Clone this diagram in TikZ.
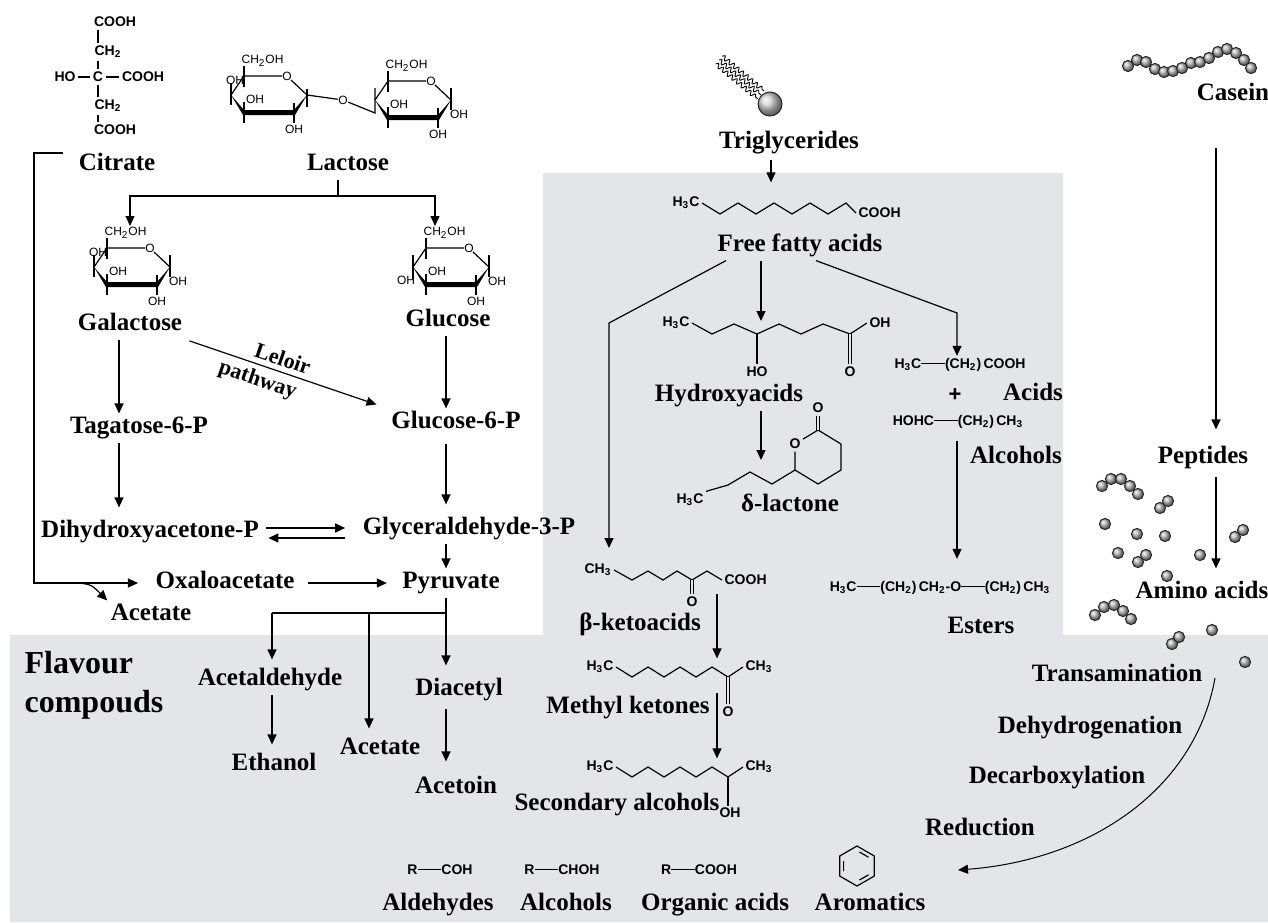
\documentclass[tikz,border=0pt]{standalone}
\usepackage{fontspec}
\setmainfont{Liberation Serif}
\setsansfont{Liberation Sans}
\usetikzlibrary{arrows.meta,decorations.pathmorphing}
\definecolor{bggray}{RGB}{228,229,233}
\newcommand{\chbond}{\rule[0.33em]{1.7em}{0.55pt}}
\tikzset{
  lbl/.style={font=\fontsize{12.5}{14}\selectfont\bfseries,inner sep=1.5pt,text height=8.3pt,text depth=2.7pt},
  biglbl/.style={font=\fontsize{16}{19}\selectfont\bfseries,inner sep=0pt,anchor=west,text height=10.6pt,text depth=3.5pt},
  slbl/.style={font=\fontsize{11}{12}\selectfont\bfseries,inner sep=2.5pt},
  chem/.style={font=\fontsize{7}{8}\selectfont\sffamily\bfseries,inner sep=1pt},
  ringtxt/.style={font=\fontsize{6}{7}\selectfont\sffamily,inner sep=0pt},
  arr/.style={-{Triangle[length=5pt,width=4.5pt]}},
  dbl/.style={line width=0.45pt,double=bggray,double distance=1.3pt},
  bead/.style={draw=black!85,line width=0.5pt,ball color=gray!55},
  sugar/.pic={
    \fill (-38,0) -- (-25,15) -- (25,15) -- (38,0) -- (26,20) -- (-26,20) -- cycle;
    \draw (38,0) -- (22,-15) (13,-19) -- (-25,-19) -- (-38,0);
    \node[ringtxt] at (18,-19) {O};
    \draw (-25,-8) -- (-25,-29);
    \node[ringtxt,anchor=west] at (-28,-34) {CH\textsubscript{2}OH};
    \draw (25,8) -- (25,28);
    \node[ringtxt] at (25,34) {OH};
    \draw (-25,7) -- (-25,28);
    \node[ringtxt] at (-14,4) {OH};
  }
}

\begin{document}
\begin{tikzpicture}[x=0.5pt,y=-0.5pt,line width=0.6pt]
	\useasboundingbox (0,0) rectangle (1268,922);
	\fill[bggray] (543,173) -- (1063,173) -- (1063,635) -- (1268,635) -- (1268,922) -- (10,922) -- (10,635) -- (543,635) -- cycle;

	\coordinate (colL) at (119,0);
	\coordinate (colG) at (446,0);
	\coordinate (colP) at (272,0);
	\coordinate (colA) at (369,0);
	\coordinate (colT) at (771,0);
	\coordinate (colM) at (761,0);
	\coordinate (colK) at (717,0);
	\coordinate (colR) at (957,0);
	\coordinate (colC) at (1216,0);

	% citrate
	\node (cooh1) at (115,22) [chem] {COOH};
	\node (ch2a) at (108,52) [chem] {CH\textsubscript{2}};
	\node (cC) at (98,77) [chem] {C};
	\node (ho) at (65,77) [chem] {HO};
	\node (cooh2) at (143,77) [chem] {COOH};
	\node (ch2b) at (108,106) [chem] {CH\textsubscript{2}};
	\node (cooh3) at (115,130) [chem] {COOH};
	\draw (cooh1.south -| cC) -- (ch2a.north -| cC);
	\draw (ch2a.south -| cC) -- (cC);
	\draw (cC) -- (ch2b.north -| cC);
	\draw (ch2b.south -| cC) -- (cooh3.north -| cC);
	\draw (ho) -- (cC) -- (cooh2);

	% sugars
	\begin{scope}[shift={(269,95)}]
		\pic {sugar};
		\draw (-38,-12) -- (-38,10) (38,-6) -- (38,12);
		\node[ringtxt] at (-34,-15) {OH};
	\end{scope}
	\begin{scope}[shift={(413,100)}]
		\pic {sugar};
		\draw (38,-12) -- (38,10);
		\node[ringtxt] at (46,14) {OH};
	\end{scope}
	\node (brO) at (343,100) [ringtxt] {O};
	\draw (307,95) -- (brO) -- (375,113) -- (375,88);
	\begin{scope}[shift={(132,267)}]
		\pic {sugar};
		\draw (-38,-12) -- (-38,10) (38,-12) -- (38,10);
		\node[ringtxt] at (-34,-15) {OH};
		\node[ringtxt] at (46,14) {OH};
	\end{scope}
	\begin{scope}[shift={(451,267)}]
		\pic {sugar};
		\draw (-38,-12) -- (-38,12) (38,-12) -- (38,10);
		\node[ringtxt] at (-45,13) {OH};
		\node[ringtxt] at (46,14) {OH};
	\end{scope}

	% triglyceride and beads
	\foreach \d in {-1,0,1}
		\draw[decorate,decoration={snake,amplitude=1.1pt,segment length=3pt},line width=0.45pt] (719+3.2*\d,60-3.85*\d) -- (761+3.2*\d,95-3.85*\d);
	\path[bead,ball color=gray!35] (770,104) circle (6pt);
	\foreach \x/\y in {1128/66,1137/60,1146/62,1155/69,1164/72,1173/71,1182/68,1191/63,1200/62,1209/58,1218/52,1227/49,1236/53,1244/60,1251/68}
		\path[bead] (\x,\y) circle (2.8pt);
	\foreach \x/\y in {1102/486,1111/479,1121/479,1130/486,1138/494,1160/508,1168/501,1105/524,1137/534,1165/536,1235/537,1243/530,1118/553,1138/562,1146/555,1200/555,1167/576,1095/615,1104/607,1114/605,1123/611,1131/619,1212/630,1172/644,1179/637,1245/662}
		\path[bead] (\x,\y) circle (2.8pt);

	% fatty acid
	\node (faH) at (702,203) [chem,anchor=east] {H\textsubscript{3}C};
	\node (faC) at (856,213) [chem,anchor=west] {COOH};
	\draw (faH.east) -- (720,214) -- (738,203) -- (756,214) -- (774,203) -- (792,214) -- (810,203) -- (828,214) -- (846,203) -- (faC.west);

	% hydroxyacid
	\node (hyH) at (692,323) [chem,anchor=east] {H\textsubscript{3}C};
	\node (hyOH) at (880,323) [chem] {OH};
	\node (hyHO) at (757,372) [chem] {HO};
	\node (hyO) at (850,372) [chem] {O};
	\draw (hyH.east) -- (712,334) -- (734,324) -- (757,334) -- (779,324) -- (801,334) -- (823,324) -- (850,334) -- (hyOH.west);
	\draw (757,334) -- (hyHO.north);
	\draw[dbl] (850,334) -- (hyO.north);

	% lactone
	\node (laO) at (795,444) [chem] {O};
	\node (laOt) at (818,408) [chem] {O};
	\node (laH) at (690,500) [chem] {H\textsubscript{3}C};
	\draw (laO) -- (818,430) -- (841,444) -- (841,470) -- (818,484) -- (795,470) -- (laO);
	\draw[dbl] (818,430) -- (laOt.south);
	\draw (795,470) -- (772,484) -- (750,472) -- (728,485) -- (laH.north east);

	% ketoacid
	\node (kaH) at (614,570) [chem,anchor=east] {CH\textsubscript{3}};
	\node (kaC) at (722,580) [chem,anchor=west] {COOH};
	\node (kaO) at (692,602) [chem] {O};
	\draw (kaH.east) -- (632,580) -- (648,571) -- (663,580) -- (677,571) -- (692,580) -- (707,571) -- (kaC.west);
	\draw[dbl] (692,580) -- (kaO.north);

	% methyl ketone
	\node (mkH) at (616,667) [chem,anchor=east] {H\textsubscript{3}C};
	\node (mkCH) at (743,667) [chem,anchor=west] {CH\textsubscript{3}};
	\node (mkO) at (728,712) [chem] {O};
	\draw (mkH.east) -- (632,677) -- (648,667) -- (664,677) -- (680,667) -- (696,677) -- (712,667) -- (728,677) -- (mkCH.west);
	\draw[dbl] (728,677) -- (mkO.north);

	% secondary alcohol
	\node (saH) at (616,767) [chem,anchor=east] {H\textsubscript{3}C};
	\node (saCH) at (743,767) [chem,anchor=west] {CH\textsubscript{3}};
	\node (saOH) at (730,813) [chem] {OH};
	\draw (saH.east) -- (632,777) -- (648,767) -- (664,777) -- (680,767) -- (696,777) -- (712,767) -- (728,777) -- (saCH.west);
	\draw (728,777) -- (728,806);

	% acids, alcohols, esters
	\node (acidf) at (960,365) [chem] {H\textsubscript{3}C\chbond(CH\textsubscript{2})\,COOH};
	\node (plus) at (955,395) [chem,font=\fontsize{11}{12}\selectfont\sffamily\bfseries] {+};
	\node (hohc) at (958,422) [chem] {HOHC\chbond(CH\textsubscript{2})\,CH\textsubscript{3}};
	\node (esterf) at (940,588) [chem] {H\textsubscript{3}C\chbond(CH\textsubscript{2})\,CH\textsubscript{2}-O\chbond(CH\textsubscript{2})\,CH\textsubscript{3}};

	% bottom row
	\node (rcoh) at (440,870) [chem] {R\chbond COH};
	\node (rchoh) at (562,870) [chem] {R\chbond CHOH};
	\node (rcooh) at (699,870) [chem] {R\chbond COOH};
	\draw (857,846) -- (874.3,856) -- (874.3,876) -- (857,886) -- (839.7,876) -- (839.7,856) -- cycle;
	\draw (859.5,852) -- (868.5,857.2) (868.5,874.8) -- (859.5,880) (843.6,871) -- (843.6,861);

	% labels
	\node (citrate) at (117,165) [lbl] {Citrate};
	\node (lactose) at (348,165) [lbl] {Lactose};
	\node (galactose) at (130,325) [lbl] {Galactose};
	\node (glucose) at (448,321) [lbl] {Glucose};
	\node (tagatose) at (139,428) [lbl] {Tagatose-6-P};
	\node (glc6p) at (456,423) [lbl] {Glucose-6-P};
	\node (dhap) at (150,532) [lbl] {Dihydroxyacetone-P};
	\node (g3p) at (469,529) [lbl] {Glyceraldehyde-3-P};
	\node (oxalo) at (225,583) [lbl] {Oxaloacetate};
	\node (pyruvate) at (451,583) [lbl] {Pyruvate};
	\node (acetA) at (151,615) [lbl] {Acetate};
	\node (acetald) at (270,680) [lbl] {Acetaldehyde};
	\node (ethanol) at (274,765) [lbl] {Ethanol};
	\node (acetB) at (380,749) [lbl] {Acetate};
	\node (diacetyl) at (459,690) [lbl] {Diacetyl};
	\node (acetoin) at (456,788) [lbl] {Acetoin};
	\node (flav) at (24,666) [biglbl] {Flavour};
	\node (comp) at (24,705) [biglbl] {compouds};
	\node (trig) at (789,143) [lbl] {Triglycerides};
	\node (ffa) at (800,246) [lbl] {Free fatty acids};
	\node (hydroxy) at (729,396) [lbl] {Hydroxyacids};
	\node (lactone) at (790,506) [lbl] {δ-lactone};
	\node (ketoacid) at (640,625) [lbl] {β-ketoacids};
	\node (methylket) at (628,708) [lbl] {Methyl ketones};
	\node (secalc) at (617,805) [lbl] {Secondary alcohols};
	\node (acids) at (1033,395) [lbl] {Acids};
	\node (alcA) at (1016,458) [lbl] {Alcohols};
	\node (esters) at (981,628) [lbl] {Esters};
	\node (casein) at (1233,95) [lbl] {Casein};
	\node (peptides) at (1203,458) [lbl] {Peptides};
	\node (amino) at (1202,593) [lbl] {Amino acids};
	\node (transam) at (1117,676) [lbl] {Transamination};
	\node (dehyd) at (1090,728) [lbl] {Dehydrogenation};
	\node (decarb) at (1057,778) [lbl] {Decarboxylation};
	\node (reduc) at (980,830) [lbl] {Reduction};
	\node (aldeh) at (438,905) [lbl] {Aldehydes};
	\node (alcB) at (566,905) [lbl] {Alcohols};
	\node (orgac) at (715,905) [lbl] {Organic acids};
	\node (arom) at (870,905) [lbl] {Aromatics};

	% sugar pathway
	\coordinate (lacbr) at (338,196);
	\coordinate (galin) at (130,226);
	\coordinate (glcin) at (435,226);
	\draw (lactose.south -| lacbr) -- (lacbr);
	\draw[arr] (lacbr) -| (galin);
	\draw[arr] (lacbr) -| (glcin);
	\draw[arr] (galactose.south -| colL) -- (tagatose.north -| colL);
	\draw[arr,shorten >=5pt] (tagatose.south -| colL) -- (dhap.north -| colL);
	\draw[arr,shorten <=2pt,shorten >=6pt] (galactose.south east) -- (glc6p.north west)
		node[pos=0.46,sloped,above,slbl] {Leloir}
		node[pos=0.38,sloped,below,slbl] {pathway};
	\draw[arr] (glucose.south -| colG) -- (glc6p.north -| colG);
	\draw[arr,shorten <=3pt,shorten >=5pt] (glc6p.south -| colG) -- (g3p.north -| colG);
	\coordinate (dh1) at ([yshift=2pt]dhap.east);
	\coordinate (dh2) at ([yshift=-3pt]dhap.east);
	\draw[arr,shorten <=2pt,shorten >=7pt] (dh1) -- (dh1 -| g3p.west);
	\draw[arr,shorten <=7pt,shorten >=3pt] (dh2 -| g3p.west) -- (dh2);
	\draw[arr] (g3p.south -| colG) -- (pyruvate.north -| colG);
	\coordinate (citcor) at (34,583);
	\coordinate (acbr) at (60,583);
	\draw[arr,shorten <=6pt,shorten >=7pt] ([yshift=6pt]citrate.west) -| (citcor) -- (oxalo.west);
	\draw[arr] (acbr) .. controls (90,583) .. (acetA.north west);
	\draw[arr,shorten <=5pt,shorten >=6pt] (oxalo.east) -- (pyruvate.west);
	\coordinate (pysplit) at (446,613);
	\draw (pyruvate.south -| colG) -- (pysplit) -- (colP |- pysplit);
	\draw[arr,shorten >=3pt] (colP |- pysplit) -- (acetald.north -| colP);
	\draw[arr,shorten >=3pt] (colA |- pysplit) -- (acetB.north -| colA);
	\draw[arr,shorten >=5pt] (pysplit) -- (diacetyl.north -| colG);
	\draw[arr,shorten >=3pt] (acetald.south -| colP) -- (ethanol.north -| colP);
	\draw[arr,shorten <=2pt,shorten >=6pt] (diacetyl.south -| colG) -- (acetoin.north -| colG);

	% lipid pathway
	\coordinate (ffaL) at (609,323);
	\coordinate (ketin) at (609,548);
	\coordinate (ffaR) at (957,313);
	\coordinate (hydin) at (761,321);
	\coordinate (lacin) at (761,460);
	\draw[arr,shorten <=1pt,shorten >=6pt] (trig.south -| colT) -- (faH.north -| colT);
	\draw[arr] ([xshift=6pt]ffa.south west) -- (ffaL) -- (ketin);
	\draw[arr] (ffa.south -| colM) -- (hydin);
	\draw[arr] ([xshift=8pt]ffa.south) -- (ffaR) -- (acidf.north -| ffaR);
	\draw[arr] (hydroxy.south -| colM) -- (lacin);
	\draw[arr,shorten <=5pt,shorten >=10pt] (hohc.south -| colR) -- (esterf.north -| colR);
	\draw[arr] (kaO.north -| colK) -- (mkCH.north -| colK);
	\draw[arr] (methylket.north -| colK) -- (saCH.north -| colK);

	% protein pathway
	\coordinate (aaS) at (1215,678);
	\coordinate (aaE) at (958,870);
	\draw[arr,shorten <=19pt,shorten >=7pt] (casein.south -| colC) -- (peptides.north -| colC);
	\draw[arr,shorten <=2pt,shorten >=5pt] (peptides.south -| colC) -- (amino.north -| colC);
	\draw[arr,line width=0.5pt] (aaS) .. controls (1195,790) and (1090,860) .. (aaE);
\end{tikzpicture}
\end{document}
